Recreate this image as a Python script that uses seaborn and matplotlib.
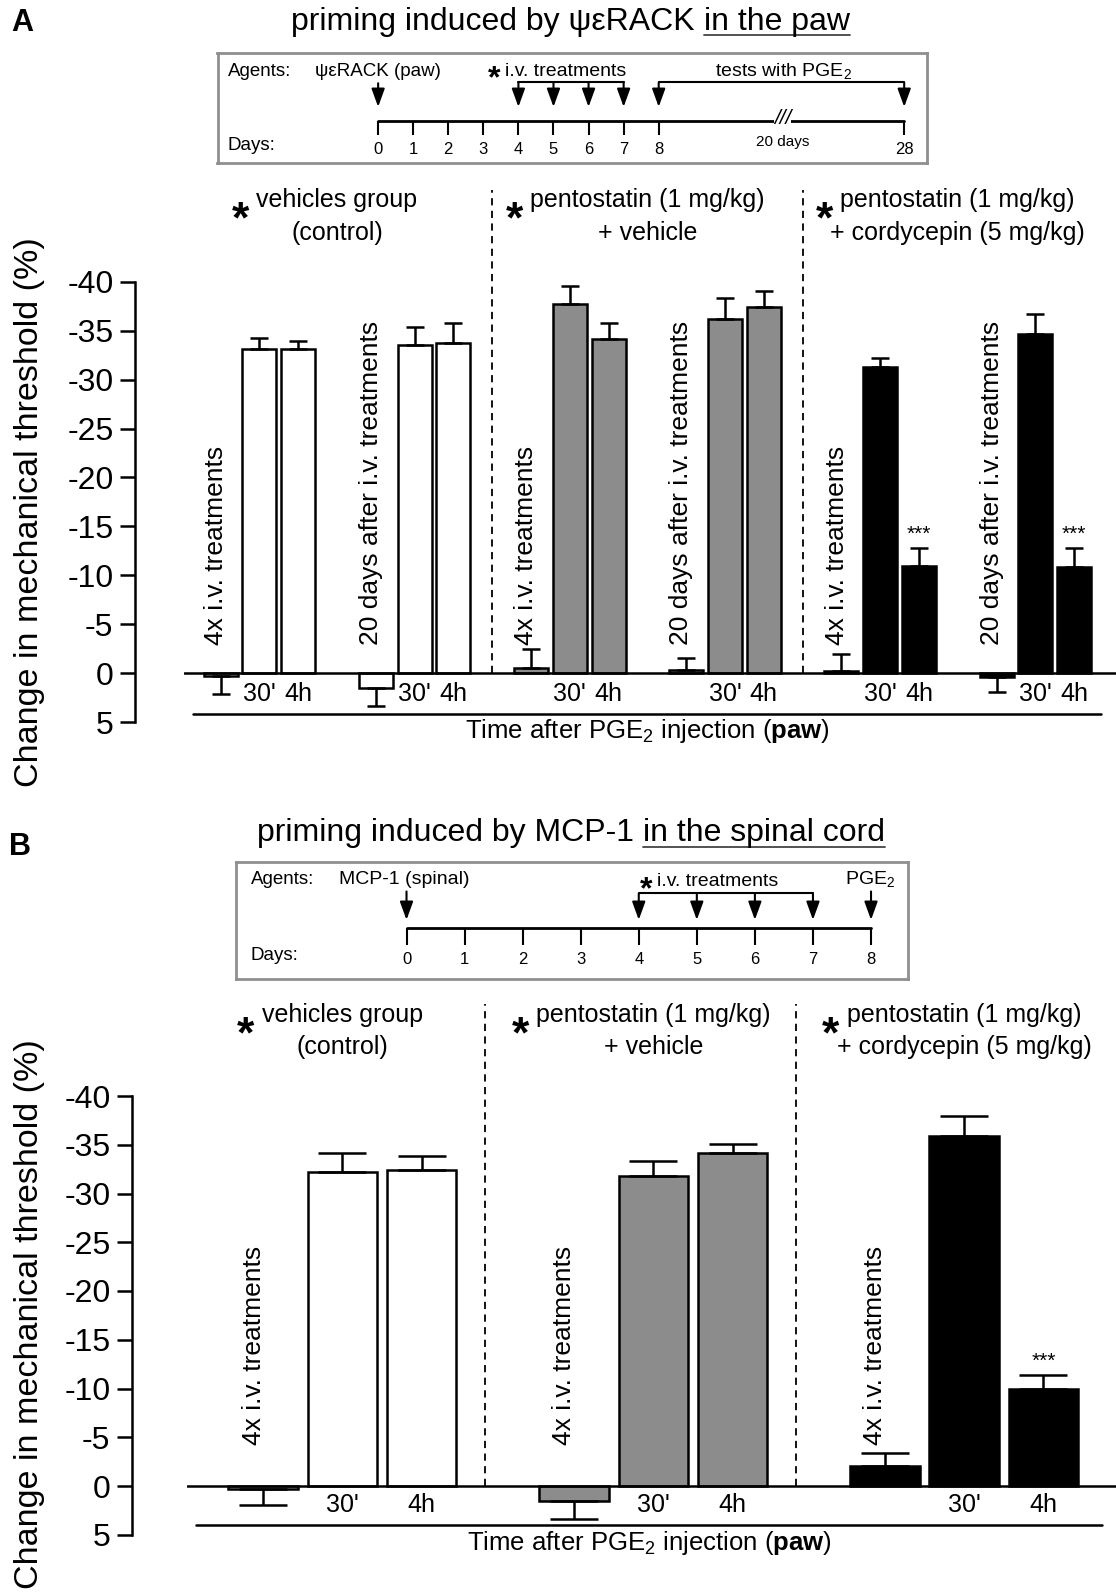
import numpy as np
import pandas as pd
import seaborn as sns
import matplotlib.pyplot as plt
from matplotlib.lines import Line2D

# ---- data (change in threshold, %, mean and SEM) ----
groups = ['vehicles', 'pentostatin', 'cordycepin']
header_top = ['vehicles group', 'pentostatin (1 mg/kg)', 'pentostatin (1 mg/kg)']
header_bottom = ['(control)', '+ vehicle', '+ cordycepin (5 mg/kg)']
times = ['pre', "30'", '4h']
subsets_a = ['4x i.v. treatments', '20 days after i.v. treatments']
subsets_b = ['4x i.v. treatments']

# panel A: priming by psi-eps-RACK in the paw (group x subset x time)
a_mean = [0.3, -33.1, -33.1, 1.5, -33.5, -33.7,
          -0.5, -37.7, -34.1, -0.35, -36.2, -37.4,
          -0.2, -31.3, -11.0, 0.35, -34.7, -10.9]
a_sem = [1.8, 1.1, 0.8, 1.8, 1.9, 2.1,
         2.0, 1.9, 1.7, 1.2, 2.1, 1.7,
         1.8, 0.9, 1.8, 1.6, 2.0, 1.9]
a_stars = ['', '', '', '', '', '', '', '', '', '', '', '',
           '', '', '***', '', '', '***']

# panel B: priming by MCP-1 in the spinal cord (group x time)
b_mean = [0.27, -32.2, -32.4, 1.55, -31.8, -34.2, -2.1, -35.9, -10.0]
b_sem = [1.7, 1.95, 1.45, 1.85, 1.55, 0.9, 1.3, 2.1, 1.4]
b_stars = ['', '', '', '', '', '', '', '', '***']

y_ticks = [-40, -35, -30, -25, -20, -15, -10, -5, 0, 5]

# timelines
a_days = ['0', '1', '2', '3', '4', '5', '6', '7', '8', '28']
b_days = ['0', '1', '2', '3', '4', '5', '6', '7', '8']
iv_days = [4, 5, 6, 7]

group_colors = {'vehicles': 'white', 'pentostatin': '#8c8c8c', 'cordycepin': 'black'}

W, H = 1116, 1594
sns.set_theme(style='white')
plt.rcParams['font.family'] = ['Liberation Sans', 'DejaVu Sans']
plt.rcParams['axes.unicode_minus'] = False
plt.rcParams['mathtext.fontset'] = 'custom'
plt.rcParams['mathtext.rm'] = 'Liberation Sans'
plt.rcParams['mathtext.it'] = 'Liberation Sans:italic'
plt.rcParams['mathtext.bf'] = 'Liberation Sans:bold'
for k in ['text.color', 'axes.labelcolor', 'xtick.color', 'ytick.color']:
    plt.rcParams[k] = 'black'

fig = plt.figure(figsize=(W / 100, H / 100), dpi=100)
renderer = fig.canvas.get_renderer()


def fx(px):
    return px / W


def fy(py):
    return 1 - py / H


def down_arrow(ax, x, y0, y1):
    ax.annotate('', xy=(x, y1), xytext=(x, y0),
                arrowprops=dict(arrowstyle='-|>,head_length=1.1,head_width=0.4',
                                color='black', lw=1.5, mutation_scale=10,
                                shrinkA=0, shrinkB=0))


def underlined_title(y_top, plain, under, cx, fs):
    t1 = fig.text(0, 0, plain, fontsize=fs, va='center', ha='left')
    t2 = fig.text(0, 0, under, fontsize=fs, va='center', ha='left')
    w1 = t1.get_window_extent(renderer).width
    w2 = t2.get_window_extent(renderer).width
    gap = 0.278 * fs * 100 / 72
    x0 = cx - (w1 + gap + w2) / 2
    t1.set_position((fx(x0), fy(y_top)))
    t2.set_position((fx(x0 + w1 + gap), fy(y_top)))
    fig.add_artist(Line2D([fx(x0 + w1 + gap), fx(x0 + w1 + gap + w2)],
                          [fy(y_top + 13), fy(y_top + 13)],
                          color='#444444', lw=1.3))


def bar_panel(ax, df, stars, group_step, sep_shift, capsize, xlim, spine_out,
              label_y, line_y, line_x, time_y, sub_y):
    sns.barplot(data=df, x='pos', y='mean', hue='group', palette=group_colors,
                native_scale=True, width=0.876, dodge=False, orient='x',
                edgecolor='black', linewidth=1.8, errorbar=None, legend=False, ax=ax)
    mean = df['mean'].to_numpy()
    sem = df['sem'].to_numpy()
    low = np.where(mean < 0, sem, 0)
    up = np.where(mean >= 0, sem, 0)
    ax.errorbar(df['pos'], mean, yerr=[low, up], fmt='none', ecolor='black',
                elinewidth=1.8, capsize=capsize, capthick=1.8, zorder=5)
    ax.axhline(0, color='black', lw=1.8, zorder=4)

    ax.set_ylim(5, -50)
    ax.set_xlim(*xlim)
    ax.set_xlabel('')
    ax.set_ylabel('')
    ax.set_xticks([])
    ax.set_yticks(y_ticks)
    ax.set_yticklabels([str(t) for t in y_ticks])
    for s in ['top', 'right', 'bottom']:
        ax.spines[s].set_visible(False)
    ax.spines['left'].set_position(('outward', spine_out))
    ax.spines['left'].set_bounds(-40, 5)
    ax.spines['left'].set_color('black')
    ax.spines['left'].set_linewidth(1.8)
    ax.tick_params(axis='y', left=True, direction='out', length=10.5, width=1.8,
                   labelsize=23, pad=5, colors='black')
    ax.patch.set_alpha(0)

    # separators between treatment groups
    for gi in range(1, len(groups)):
        ax.vlines(gi * group_step - sep_shift, 0, -49.4, colors='black',
                  linestyles=(0, (4, 3)), lw=1.3)

    # labels under / beside the bars
    for _, row in df.iterrows():
        if row['time'] == 'pre':
            ax.text(row['pos'] - 0.12, sub_y, row['subset'], rotation=90,
                    ha='center', va='bottom', fontsize=19)
        else:
            ax.text(row['pos'], time_y, row['time'], ha='center', va='center',
                    fontsize=18)
    for p, m, s, st in zip(df['pos'], mean, sem, stars):
        if st:
            ax.text(p, m - s - 0.4, st, ha='center', va='bottom', fontsize=15)

    ax.plot(line_x, [line_y, line_y], color='black', lw=1.8, clip_on=False)
    ax.text(np.mean(line_x), label_y, 'Time after PGE$_2$ injection ($\\mathbf{paw}$)',
            ha='center', va='center', fontsize=18.5)

    # group headers with asterisk
    for gi in range(len(groups)):
        cx = df.loc[df['group'] == groups[gi], 'pos'].agg(['min', 'max']).mean()
        t1 = ax.text(cx, -48.3, header_top[gi], ha='center', va='center', fontsize=18)
        ax.text(cx, -45.0, header_bottom[gi], ha='center', va='center', fontsize=18)
        bb = t1.get_window_extent(renderer)
        ax.annotate('*', xy=(bb.x0 - 16, bb.y0 + bb.height / 2 - 32),
                    xycoords='figure pixels', ha='center', va='baseline',
                    fontsize=32, fontweight='bold')


# ---- panel A bars ----
rows = []
for gi, g in enumerate(groups):
    for si, sub in enumerate(subsets_a):
        for ti, t in enumerate(times):
            rows.append(dict(group=g, subset=sub, time=t, pos=gi * 8 + si * 4 + ti))
df_a = pd.DataFrame(rows)
df_a['mean'] = a_mean
df_a['sem'] = a_sem

ax_a = fig.add_axes([fx(184), fy(722.25), fx(W - 184), (722.25 - 183.8) / H])
bar_panel(ax_a, df_a, a_stars, 8, 1, 6.8, (-0.943, 23.08), 35.3,
          5.87, 4.16, [-0.71, 22.69], 2.1, -2.9)

# ---- panel B bars ----
rows = []
for gi, g in enumerate(groups):
    for ti, t in enumerate(times):
        rows.append(dict(group=g, subset=subsets_b[0], time=t, pos=gi * 3.92 + ti))
df_b = pd.DataFrame(rows)
df_b['mean'] = b_mean
df_b['sem'] = b_sem

ax_b = fig.add_axes([fx(187), fy(1534.75), fx(W - 187), (1534.75 - 998.5) / H])
bar_panel(ax_b, df_b, b_stars, 3.92, 1.12, 17, (-0.96, 10.755), 39.6,
          5.85, 4.0, [-0.845, 10.58], 2.0, -4.2)

# ---- y labels, titles, panel letters ----
for yc in [512, 1314]:
    fig.text(fx(30), fy(yc), 'Change in mechanical threshold (%)', rotation=90,
             ha='center', va='center', fontsize=24.5)
fig.text(fx(22), fy(23), 'A', ha='center', va='center', fontsize=22, fontweight='bold')
fig.text(fx(20), fy(847), 'B', ha='center', va='center', fontsize=22, fontweight='bold')
underlined_title(22.4, 'priming induced by ψεRACK', 'in the paw', 570.7, 23)
underlined_title(833.5, 'priming induced by MCP-1', 'in the spinal cord', 570.7, 23)


def box_axes(x0, y0, x1, y1, xlim):
    bx = fig.add_axes([fx(x0), fy(y1), fx(x1 - x0), (y1 - y0) / H])
    bx.set_xlim(*xlim)
    bx.set_ylim(0, 1)
    bx.set_xticks([])
    bx.set_yticks([])
    for s in bx.spines.values():
        s.set_visible(True)
        s.set_color('#8f8f8f')
        s.set_linewidth(2)
    return bx


# ---- timeline A ----
bx = box_axes(217.5, 53, 927, 163, (-4.58, 15.65))
pos_a = [float(d) if int(d) <= 8 else 15.0 for d in a_days]
bx.plot([pos_a[0], pos_a[-1]], [0.38, 0.38], color='black', lw=2)
bx.vlines(pos_a, 0.255, 0.38, colors='black', lw=1.5)
for p, d in zip(pos_a, a_days):
    bx.text(p, 0.124, d, ha='center', va='center', fontsize=12)
down_arrow(bx, 0, 0.725, 0.51)
bx.plot([iv_days[0], iv_days[-1]], [0.733, 0.733], color='black', lw=1.5)
for d in iv_days:
    down_arrow(bx, d, 0.733, 0.51)
bx.plot([pos_a[8], pos_a[-1]], [0.733, 0.733], color='black', lw=1.5)
for p in [pos_a[8], pos_a[-1]]:
    down_arrow(bx, p, 0.733, 0.51)
bx.text(-4.29, 0.835, 'Agents:', ha='left', va='center', fontsize=13.5)
bx.text(-1.8, 0.835, 'ψεRACK (paw)', ha='left', va='center', fontsize=13.5)
bx.text(3.31, 0.76, '*', ha='center', va='center', fontsize=23, fontweight='bold')
bx.text(3.62, 0.835, 'i.v. treatments', ha='left', va='center', fontsize=14)
bx.text(9.6, 0.835, 'tests with PGE$_2$', ha='left', va='center', fontsize=14)
bx.text(-4.29, 0.16, 'Days:', ha='left', va='center', fontsize=13.5)
bx.text(11.54, 0.40, '///', ha='center', va='center', fontsize=15, style='italic',
        bbox=dict(facecolor='white', edgecolor='none', pad=0))
bx.text(11.54, 0.19, '20 days', ha='center', va='center', fontsize=11)

# ---- timeline B ----
bx = box_axes(235.8, 861.9, 907.6, 978.8, (-2.94, 8.63))
pos_b = [float(d) for d in b_days]
bx.plot([pos_b[0], pos_b[-1]], [0.434, 0.434], color='black', lw=2)
bx.vlines(pos_b, 0.29, 0.434, colors='black', lw=1.5)
for p, d in zip(pos_b, b_days):
    bx.text(p, 0.165, d, ha='center', va='center', fontsize=12)
down_arrow(bx, 0, 0.747, 0.504)
bx.plot([iv_days[0], iv_days[-1]], [0.73, 0.73], color='black', lw=1.5)
for d in iv_days:
    down_arrow(bx, d, 0.73, 0.504)
down_arrow(bx, pos_b[-1], 0.747, 0.504)
bx.text(-2.68, 0.85, 'Agents:', ha='left', va='center', fontsize=13.5)
bx.text(-1.17, 0.85, 'MCP-1 (spinal)', ha='left', va='center', fontsize=14)
bx.text(4.13, 0.76, '*', ha='center', va='center', fontsize=23, fontweight='bold')
bx.text(4.32, 0.83, 'i.v. treatments', ha='left', va='center', fontsize=14)
bx.text(7.98, 0.85, 'PGE$_2$', ha='center', va='center', fontsize=14)
bx.text(-2.68, 0.2, 'Days:', ha='left', va='center', fontsize=13.5)

fig.savefig('out.png', dpi=100)
